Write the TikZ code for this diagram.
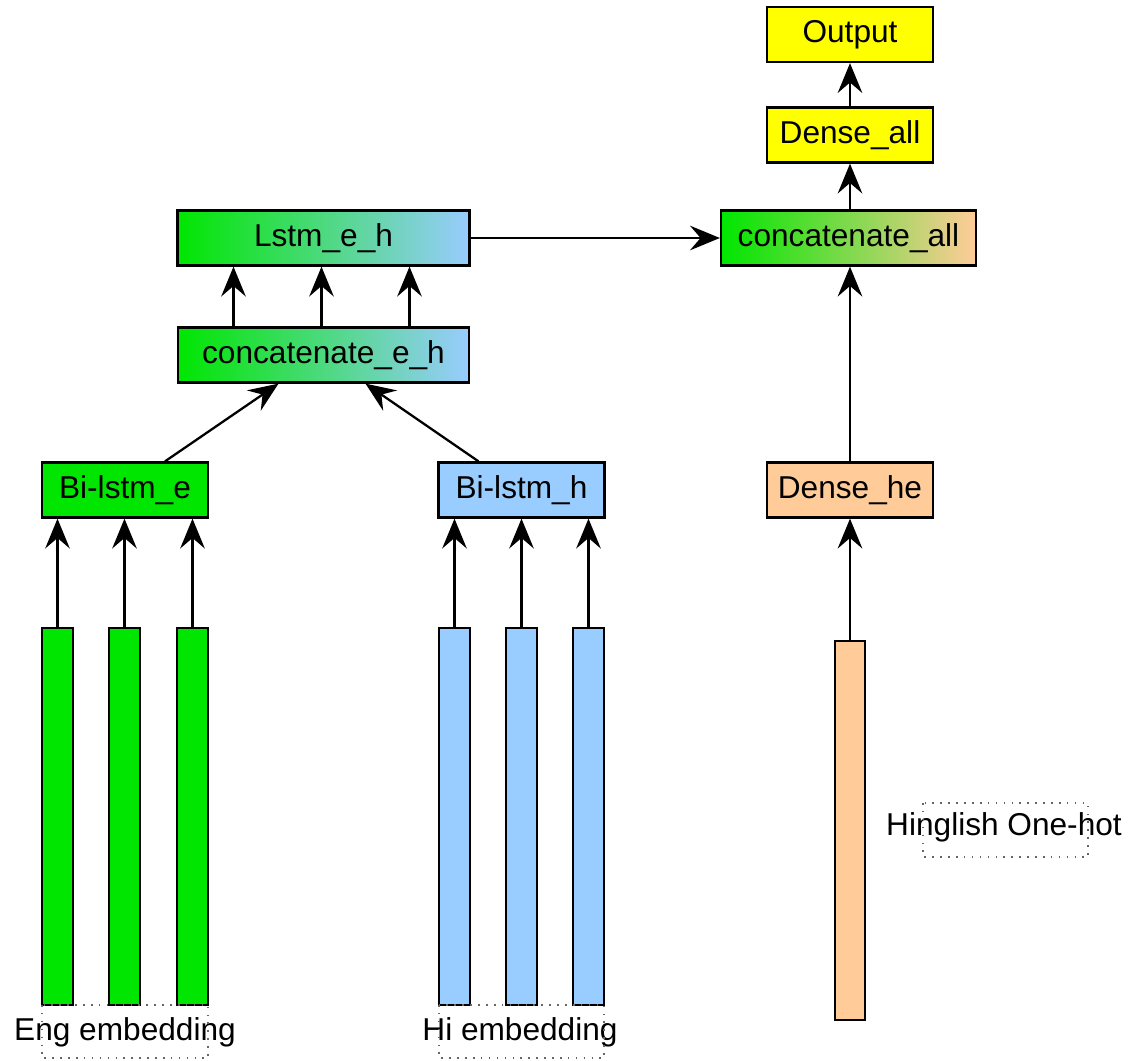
\documentclass[tikz,border=0pt]{standalone}
\usepackage{fontspec}
\setmainfont{Liberation Sans}
\usetikzlibrary{arrows.meta, calc}
\definecolor{embgreen}{RGB}{0, 230, 0}
\definecolor{embblue}{RGB}{153, 204, 255}
\definecolor{hotorange}{RGB}{255, 204, 153}
\definecolor{outyellow}{RGB}{255, 255, 0}

\begin{document}
\begin{tikzpicture}[x=0.02cm, y=-0.02cm,
  layer/.style={draw, line width=1.3pt, inner sep=0pt, minimum width=3.32cm, minimum height=1.1cm, font=\fontsize{18}{21}\selectfont},
  bar/.style={draw, line width=1.3pt, inner sep=0pt, minimum width=0.62cm, minimum height=7.54cm},
  link/.style={-{Stealth[length=17pt, width=14pt, inset=6pt]}, line width=1.3pt},
  tag/.style={inner sep=0pt, font=\fontsize{18}{21}\selectfont},
  selbox/.style={draw=black!60, line width=0.9pt, dash pattern=on 0.9pt off 3.6pt}
]
  \useasboundingbox (0,0) rectangle (1134,1061);

  % Layers
  \node[layer, fill=outyellow] (out) at (850, 34.5) {Output};
  \node[layer, fill=outyellow] (dall) at (850, 135) {Dense\_all};
  \node[layer, minimum width=5.1cm, left color=embgreen, right color=hotorange] (call) at (848.5, 238) {concatenate\_all};
  \node[layer, minimum width=5.84cm, left color=embgreen, right color=embblue] (leh) at (323.5, 238) {Lstm\_e\_h};
  \node[layer, minimum width=5.82cm, left color=embgreen, right color=embblue] (ceh) at (323.5, 355) {concatenate\_e\_h};
  \node[layer, fill=embgreen] (bie) at (125, 490) {Bi-lstm\_e};
  \node[layer, fill=embblue] (bih) at (521.5, 490) {Bi-lstm\_h};
  \node[layer, fill=hotorange] (dhe) at (850, 490) {Dense\_he};

  % Inputs
  \node[bar, fill=embgreen] (e1) at (57.5, 816.5) {};
  \node[bar, fill=embgreen] (e2) at (124.5, 816.5) {};
  \node[bar, fill=embgreen] (e3) at (192.5, 816.5) {};
  \node[bar, fill=embblue] (h1) at (454.5, 816.5) {};
  \node[bar, fill=embblue] (h2) at (521.5, 816.5) {};
  \node[bar, fill=embblue] (h3) at (588.5, 816.5) {};
  \node[bar, fill=hotorange, minimum width=0.6cm, minimum height=7.58cm] (oh) at (850, 830.5) {};

  % Input labels
  \node[tag] (englbl) at (125, 1032) {Eng embedding};
  \draw[selbox] (42, 1005) rectangle (208, 1058);
  \node[tag] (hilbl) at (520, 1032) {Hi embedding};
  \draw[selbox] (439, 1005) rectangle (604, 1058);
  \node[tag] (hglbl) at (1004, 827) {Hinglish One-hot};
  \draw[selbox] (923, 803) rectangle (1088, 857);

  % Connections
  \foreach \b in {e1, e2, e3}
    \draw[link] (\b.north) -- (\b.north |- bie.south);
  \foreach \b in {h1, h2, h3}
    \draw[link] (\b.north) -- (\b.north |- bih.south);
  \draw[link] ($(bie.north)+(40,0)$) -- ($(ceh.south)+(-45,0)$);
  \draw[link] ($(bih.north)+(-43,0)$) -- ($(ceh.south)+(42,0)$);
  \foreach \dx in {-90, -2, 86}
    \draw[link] ($(ceh.north)+(\dx,0)$) -- ($(leh.south)+(\dx,0)$);
  \draw[link] (leh.east) -- (call.west);
  \draw[link] (oh.north) -- (dhe.south);
  \draw[link] (dhe.north) -- (dhe.north |- call.south);
  \draw[link] (dall.south |- call.north) -- (dall.south);
  \draw[link] (dall.north) -- (out.south);
\end{tikzpicture}
\end{document}
